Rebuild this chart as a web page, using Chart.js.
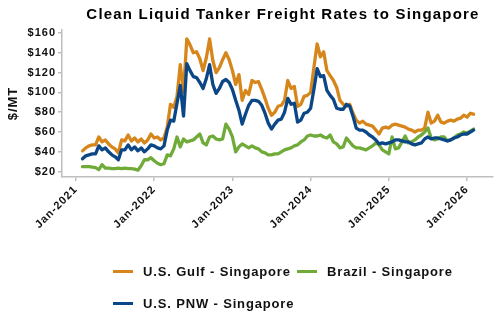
<!DOCTYPE html>
<html>
<head>
<meta charset="utf-8">
<script src="https://cdn.jsdelivr.net/npm/chart.js@4"></script>
<style>
  html, body { margin: 0; padding: 0; background: #fff; }
  #wrap { position: relative; width: 500px; height: 330px; }
  #title {
    position: absolute; left: 83px; width: 400px; top: 5px; height: 20px; line-height: 20px;
    text-align: center; white-space: nowrap;
    font: bold 15px "Liberation Sans", Arial, sans-serif;
    letter-spacing: 1.2px; color: #000;
  }
  #legend {
    position: absolute; left: 113px; top: 255px; width: 380px;
    display: flex; flex-wrap: wrap;
    font: bold 13px "Liberation Sans", Arial, sans-serif;
    letter-spacing: 0.85px; color: #111;
  }
  .item { display: flex; align-items: center; height: 32px; white-space: nowrap; }
  .item.first { width: 184px; }
  .sw { width: 20px; height: 3px; margin-right: 10px; }
</style>
</head>
<body>
<div id="wrap">
  <canvas id="c" width="500" height="330"></canvas>
  <div id="title">Clean Liquid Tanker Freight Rates to Singapore</div>
  <div id="legend"></div>
</div>
<script>
// Semi-monthly freight rates, $/MT, starting February 2021
const firstPeriod = 2021 + 1 / 12;
const periodsPerYear = 24;

const gulf = [41,44,46,47,47,55,50,52,48,45, 43,39,52,51,57,51,54,50,53,49,
  52,58,54,55,52,54,65,88,85,96, 128,100,154,148,140,141,134,122,135,154,
  132,120,125,133,140,133,122,108,118,92, 102,98,112,110,111,103,94,84,77,80,
  86,87,92,112,104,106,86,88,96,97, 100,125,149,136,141,122,117,112,105,92,
  88,86,88,79,72,69,71,68,67,66, 62,58,64,65,64,67,68,67,66,65,
  63,62,60,62,62,64,80,69,71,77, 70,69,71,72,71,73,74,77,75,79, 78];

const brazil = [25,25,25,24.5,24,22,27,23.5,23.5,23, 23,23.5,23,23.5,23,23,22.5,21.5,26,32,
  32,34,31,28.5,27,28,37,36,43,55, 45,53,50,51,52,55,58,49,47,55,
  56,53,52,53,68,63,55,40,45,48, 46,44,46,44,43,40,39,37,37,38,
  38,40,42,43,44,46,47,50,52,56, 57,56,56,57,55,54,57,50,48,44,
  45,54,50,46,44,44,43,42,44,46, 49,47,42,40,38,55,43,44,50,56,
  49,50,52,55,57,60,64,54,52,53, 55,55,51,52,54,57,58,60,59,61, 63];

const pnw = [33,36,37,38,38,46,42,44,40,37, 35,32,42,42,47,42,45,41,44,40,
  43,47,46,44,43,46,62,72,71,89, 107,76,129,122,116,115,110,104,114,128,
  108,99,104,111,113,110,103,92,82,68, 78,87,92,92,91,87,79,69,63,68,
  72,73,80,94,88,89,70,72,79,80, 84,103,124,116,117,102,97,93,84,83,
  83,88,86,76,64,62,62,60,57,55, 52,48,49,48,49,50,52,52,51,50,
  50,48,47,48,49,53,55,53,54,54, 53,52,51,52,54,55,57,58,58,60, 62];

const seriesNames = ['U.S. Gulf - Singapore', 'Brazil - Singapore', 'U.S. PNW - Singapore'];
const seriesColors = ['#D6861A', '#70AB3A', '#0B4787'];

const tickYears = [2021, 2022, 2023, 2024, 2025, 2026];
const tickLabels = ['Jan-2021', 'Jan-2022', 'Jan-2023', 'Jan-2024', 'Jan-2025', 'Jan-2026'];
const yTicks = [20, 40, 60, 80, 100, 120, 140, 160];

const FONT = '"Liberation Sans", Arial, sans-serif';
const toPoints = arr => arr.map((v, i) => ({ x: firstPeriod + i / periodsPerYear, y: v }));

// Slightly spaced lettering for all canvas text
const spacing = {
  id: 'spacing',
  beforeLayout(c) { c.ctx.letterSpacing = '1px'; },
  beforeDraw(c) { c.ctx.letterSpacing = '1px'; }
};

const axisGrey = '#BFBFBF';

const chart = new Chart(document.getElementById('c'), {
  type: 'line',
  data: {
    datasets: [
      { label: seriesNames[0], data: toPoints(gulf), borderColor: seriesColors[0], backgroundColor: seriesColors[0], order: 2 },
      { label: seriesNames[1], data: toPoints(brazil), borderColor: seriesColors[1], backgroundColor: seriesColors[1], order: 1 },
      { label: seriesNames[2], data: toPoints(pnw), borderColor: seriesColors[2], backgroundColor: seriesColors[2], order: 0 }
    ]
  },
  options: {
    responsive: false,
    animation: false,
    devicePixelRatio: 1,
    elements: {
      point: { radius: 0 },
      line: { borderWidth: 3.3, tension: 0, borderJoinStyle: 'round', borderCapStyle: 'round' }
    },
    layout: { padding: { left: 0, right: 7, top: 30, bottom: 83 } },
    plugins: {
      legend: { display: false },
      tooltip: { enabled: false },
      title: { display: false }
    },
    scales: {
      x: {
        type: 'linear',
        min: 2020.821,
        max: 2026.332,
        afterBuildTicks: s => { s.ticks = tickYears.map(v => ({ value: v })); },
        afterFit: s => { s.height = 70; },
        ticks: {
          autoSkip: false,
          maxRotation: 45,
          minRotation: 45,
          padding: 2,
          color: '#111',
          font: { family: FONT, size: 11, weight: 'bold' },
          callback: v => tickLabels[tickYears.indexOf(v)]
        },
        grid: { display: true, drawOnChartArea: false, drawTicks: true, tickLength: 4, color: axisGrey, lineWidth: 1.5 },
        border: { display: true, color: axisGrey, width: 1.5 }
      },
      y: {
        min: 14.6,
        max: 163,
        afterBuildTicks: s => { s.ticks = yTicks.map(v => ({ value: v })); },
        afterFit: s => { s.width = 62; },
        ticks: {
          padding: 2,
          color: '#111',
          font: { family: FONT, size: 11, weight: 'bold' },
          callback: v => '$' + v
        },
        title: {
          display: true,
          text: '$/MT',
          color: '#111',
          font: { family: FONT, size: 13, weight: 'bold' },
          padding: { top: 6, bottom: 0 }
        },
        grid: { display: true, drawOnChartArea: false, drawTicks: true, tickLength: 4, color: axisGrey, lineWidth: 1.5 },
        border: { display: true, color: axisGrey, width: 1.5 }
      }
    }
  },
  plugins: [spacing]
});

// Legend built from the chart's datasets: two entries on the first row, one below
const legend = document.getElementById('legend');
chart.data.datasets.forEach((ds, i) => {
  const item = document.createElement('div');
  item.className = 'item' + (i === 0 ? ' first' : '');
  const sw = document.createElement('span');
  sw.className = 'sw';
  sw.style.background = ds.borderColor;
  const txt = document.createElement('span');
  txt.textContent = ds.label;
  item.appendChild(sw);
  item.appendChild(txt);
  legend.appendChild(item);
});
</script>
</body>
</html>
